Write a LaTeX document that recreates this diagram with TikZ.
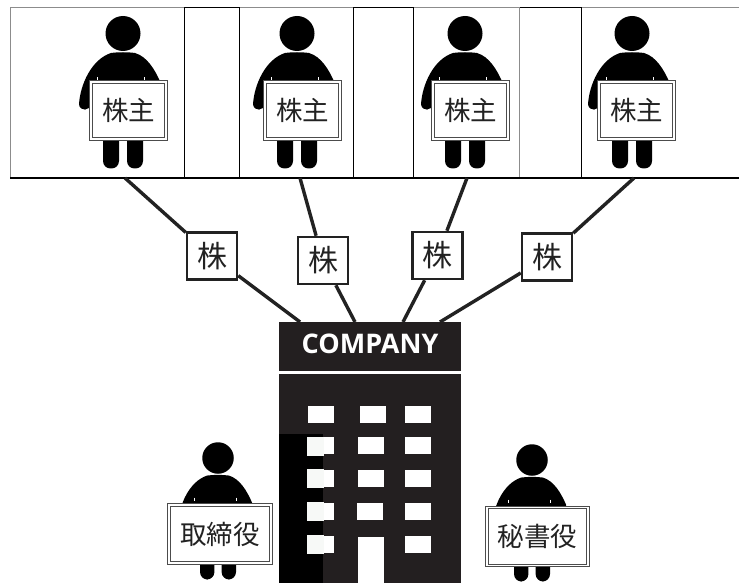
\documentclass[tikz,border=0pt]{standalone}
\usepackage{fontspec}
\setmainfont{Liberation Sans}
\newfontfamily\jpfont{Noto Sans CJK JP}
\newfontfamily\logofont{Open Sans}
\definecolor{bldg}{HTML}{231F20}
\definecolor{lite}{HTML}{F7F9F7}
\definecolor{inkc}{HTML}{222222}
\newcommand{\jpsize}[1]{\fontsize{#1}{#1}\selectfont\jpfont}
\newcommand{\personfig}[3]{%
 \begin{scope}[shift={(#1,#2)},scale=#3]
  \fill[black] (0,0) circle (17.5);
  \fill[black] (-12,19.5) .. controls (-5,18.5) and (5,18.5) .. (12,19.5)
     .. controls (24,23) and (32,36) .. (38,50) -- (38,60) -- (-34,60)
     -- (-32,70) .. controls (-33,78) and (-43,78) .. (-44,71)
     .. controls (-43,52) and (-32,26) .. (-12,19.5) -- cycle;
  \fill[black,rounded corners=7.5] (-20,90) -- (-20,135) -- (-4,135) -- (-4,90) -- cycle;
  \fill[black,rounded corners=7.5] (4,90) -- (4,135) -- (20,135) -- (20,90) -- cycle;
  \draw[white,line width=0.9] (-26,44) -- (-26,48);
  \draw[white,line width=0.9] (21,44) -- (21,48);
 \end{scope}}
\tikzset{
 sign/.style={draw=black!70,double=white,double distance=1.4pt,line width=1pt,fill=white,inner sep=0pt,text=inkc,font=\jpsize{#1}},
 share/.style={draw=inkc,line width=2.5pt,fill=white,inner sep=0pt,text=inkc,minimum width=50pt,minimum height=47pt,font=\jpsize{30}},
 link/.style={draw=inkc,line width=3.4pt},
 bbar/.style={draw=black,line width=1pt},
 gbar/.style={draw=black!45,line width=1pt},
 win/.style={fill=white,draw=none,inner sep=0pt,minimum width=26pt,minimum height=17pt},
 litewin/.style={fill=lite,draw=none,inner sep=0pt,minimum width=17pt,minimum height=19pt},
}
\begin{document}
\begin{tikzpicture}[x=1pt,y=-1pt]
\useasboundingbox (0,0) rectangle (739,583);
\fill[white] (0,0) rectangle (739,583);
% shareholder frame
\draw[gbar] (739,8) -- (10.5,8) -- (10.5,178);
\draw[bbar] (184.5,178) -- (184.5,7.5) -- (239.5,7.5) -- (239.5,178);
\draw[bbar] (353,178) -- (353,7.5) -- (413.5,7.5) -- (413.5,178);
\draw[bbar] (519.5,7.5) -- (581.5,7.5) -- (581.5,178);
\draw[gbar] (519.5,7.5) -- (519.5,178);
\draw[draw=black,line width=1.3pt] (10,178) -- (739,178);
% people
\personfig{123}{33.5}{1}
\personfig{297}{33.5}{1}
\personfig{465}{33.5}{1}
\personfig{632}{33.5}{1}
\personfig{218}{458}{0.9}
\personfig{532}{460}{0.9}
\node[sign=26.5,minimum width=75pt,minimum height=57pt] (s1) at (128.5,110.5) {株主};
\node[sign=26.5,minimum width=75pt,minimum height=57pt] (s2) at (302.5,110.5) {株主};
\node[sign=26.5,minimum width=75pt,minimum height=57pt] (s3) at (470.5,110.5) {株主};
\node[sign=26.5,minimum width=75pt,minimum height=57pt] (s4) at (636.5,110.5) {株主};
\node[sign=26.5,minimum width=102pt,minimum height=58pt] (dir) at (220,534) {取締役};
\node[sign=26.5,minimum width=101pt,minimum height=58pt] (sec) at (537.5,536.5) {秘書役};
% connector ends
\coordinate (t1) at (125,178);
\coordinate (t2) at (300,178);
\coordinate (t3) at (467,178);
\coordinate (t4) at (634,178);
\coordinate (c1) at (300,322);
\coordinate (c2) at (355,322);
\coordinate (c3) at (403,322);
\coordinate (c4) at (440,322);
\node[share] (k1) at (212,256) {株};
\node[share] (k2) at (323,260.5) {株};
\node[share] (k3) at (437.5,255.5) {株};
\node[share] (k4) at (547,257) {株};
\draw[link] (t1) -- (k1);
\draw[link] (k1) -- (c1);
\draw[link] (t2) -- (k2);
\draw[link] (k2) -- (c2);
\draw[link] (t3) -- (k3);
\draw[link] (k3) -- (c3);
\draw[link] (t4) -- (k4);
\draw[link] (k4) -- (c4);
% building
\node[fill=bldg,text=white,inner sep=0pt,minimum width=182pt,minimum height=49pt,font=\fontsize{27}{27}\selectfont\logofont\bfseries] (co) at (370,346.5) {\raisebox{-7pt}[0pt][0pt]{COMPANY}};
\fill[bldg] (279,374) rectangle (461,583);
\fill[black] (279,434) rectangle (323,583);
\foreach \n/\x/\y in {a/321/414.5,b/373/414.5,c/418/414.5,
  d/321/445.5,e/371/445.5,f/418/445,
  g/321/478.5,h/371/478.5,i/418/478.5,
  j/321/511.5,k/369.5/511.5,l/418/511,
  m/321/544.5,o/418/544.5}{
  \node[win] (w\n) at (\x,\y) {};
}
\fill[white] (358,537) rectangle (383.5,583);
\foreach \n/\y in {p/446.5,q/478,r/511.5,s/544.5}{
  \node[litewin] (l\n) at (315.5,\y) {};
}
\end{tikzpicture}
\end{document}
